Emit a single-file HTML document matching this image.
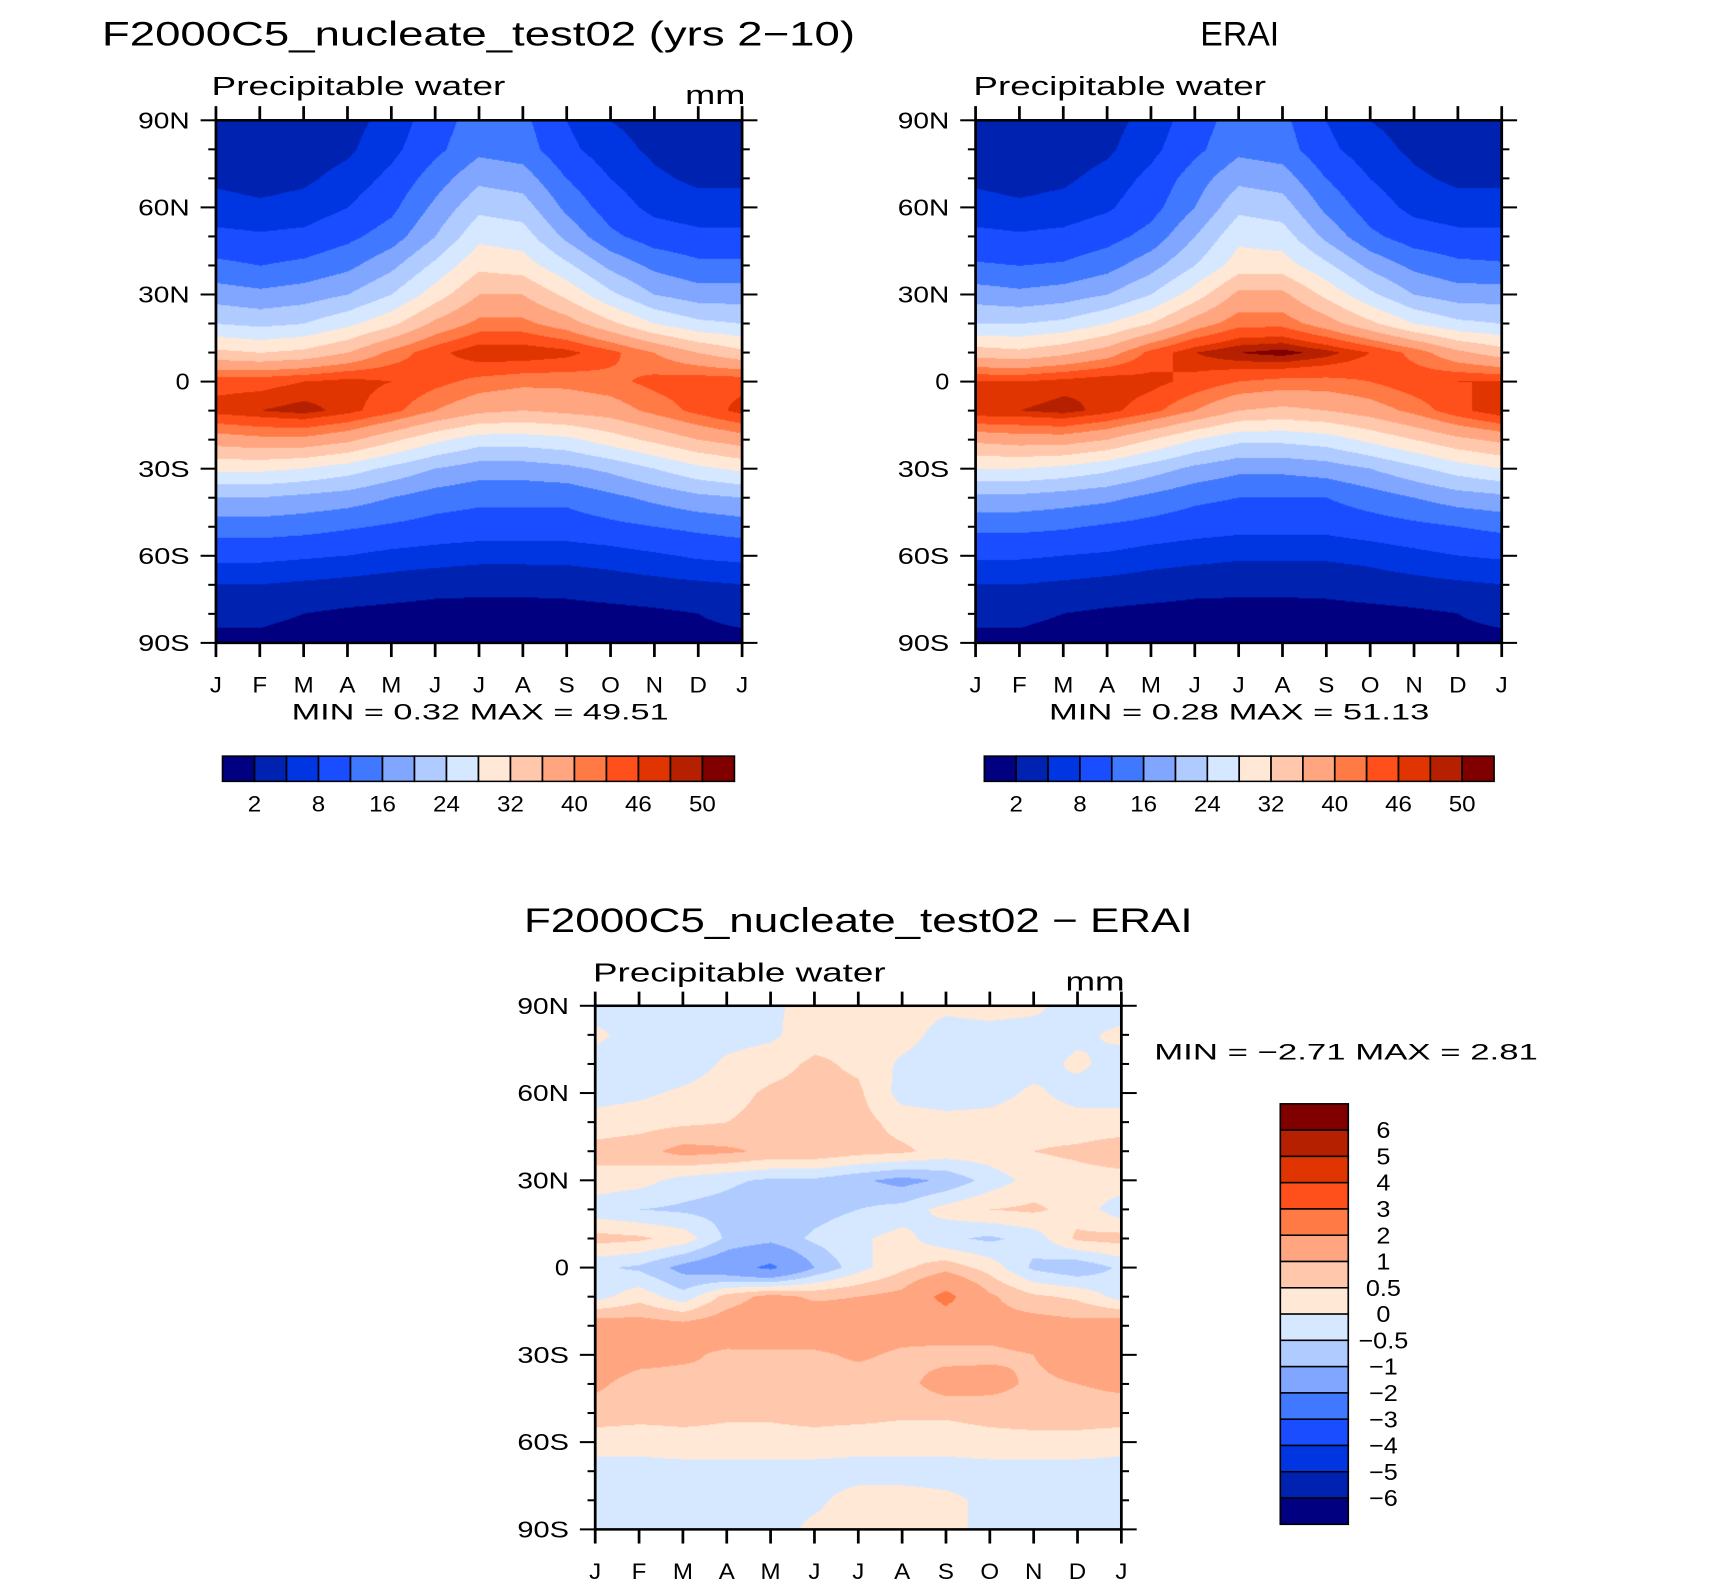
<!DOCTYPE html>
<html><head><meta charset="utf-8">
<style>
html,body{margin:0;padding:0;background:#fff;overflow:hidden}
#stage{position:absolute;left:0;top:0;width:1560px;height:1570px;transform-origin:0 0;transform:scale(1.09615,1.01083);font-family:"Liberation Sans",sans-serif}
canvas{position:absolute}
svg{position:absolute;left:0;top:0}
</style></head>
<body>
<div id="stage">
<canvas id="c1" width="480" height="517" style="left:197px;top:119px"></canvas>
<canvas id="c2" width="480" height="517" style="left:890px;top:119px"></canvas>
<canvas id="c3" width="480" height="518" style="left:543px;top:995px"></canvas>
<svg id="ov" width="1560" height="1570"></svg>
</div>
<script>
const months=["J","F","M","A","M","J","J","A","S","O","N","D","J"];
const latLabels=["90N","60N","30N","0","30S","60S","90S"];
const colors=["#000080","#0022B0","#0035E2","#1A4DFF","#4078FF","#80A6FF","#B0CBFF","#D6E8FF","#FFE8D6","#FFC8AC","#FFA580","#FF7A45","#FF4F1A","#E03500","#B52000","#800000"];
const levelsTop=[2,5,8,12,16,20,24,28,32,36,40,43,46,48,50];
const labelsTop=["2","8","16","24","32","40","46","50"];
const levelsDiff=[-6,-5,-4,-3,-2,-1,-0.5,0,0.5,1,2,3,4,5,6];
const labelsDiff=["6","5","4","3","2","1","0.5","0","\u22120.5","\u22121","\u22122","\u22123","\u22124","\u22125","\u22126"];
// rows: 90N..90S every 10 deg; columns: J..J
const modelPW=[
[3,2.5,3,4,6,10,14,13,8,5,4,3,3],
[3.5,3,3.5,4.5,7,11,15,14,9,6,4.5,3.5,3.5],
[4.5,4,4.5,6,9,14,19,18,12,8,5.5,4.5,4.5],
[6,5.5,6,8,11,17,23,22,15,10,7,6,6],
[9,8.5,9,11,14,20,27,26,19,13,10,9,9],
[13,12,13,15,19,25,31,30,25,19,15,13,13],
[18,17,18,20,24,30,36,36,31,25,20,18,18],
[24,23,24,27,31,37,41,41,38,33,28,25,24],
[33,32,33,36,41,45,48,48,47,44,40,36,33],
[45,45,46,47,46,44,42,41,41,42,44,45,45],
[47,48,49,47,44,40,37,36,37,38,41,44,47],
[38,39,39,37,33,29,26,26,27,30,33,36,38],
[29,29,28,26,23,20,18,18,19,21,24,27,29],
[20,20,19,18,16,14,13,13,13,15,17,19,20],
[14,14,13.5,12.5,11.5,10.5,10,10,10,11,12,13,14],
[9,9,8.5,8,7,6.5,6,6,6,6.5,7.5,8.5,9],
[5,5,4.5,4,3.5,3,2.8,2.8,3,3.5,4,4.5,5],
[2.5,2.5,2,1.5,1.2,1,1,1,1,1.2,1.5,2,2.5],
[1.5,1.5,1.2,1,0.8,0.6,0.5,0.5,0.5,0.7,1,1.5,1.5]];
const eraiPW=[
[3,2.5,3,4,6,10,14,13,8,5,4,3,3],
[3.5,3,3.5,4.5,7,11,15,14,9,6,4.5,3.5,3.5],
[4.5,4,4.5,6,9,14,19,18,12,8,5.5,4.5,4.5],
[6,5.5,6,7.5,10.5,16,23,22,15,10,7,6,6],
[9,8.5,9,10.5,13.5,20,27,26,19,13,10,9,9],
[12.5,12,12.5,14.5,18.5,24,30,30,25,19,15,13,12.5],
[18,17,18,20,24,30,37,37,31,25,20,18,18],
[24,24,25,28,32,38,42,42,38,33,28,25,24],
[34,33,35,38,44,48,50,51,49,46,42,37,34],
[46,46,47,48,47,45,43,42,42,43,45,46,46],
[48,48,49,47,44,40,36,35,36,38,41,45,48],
[37,38,38,36,32,28,25,25,26,29,32,35,37],
[28,28,27,25,22,19,17,17,18,20,23,26,28],
[19,19,18,17,15,13,12,12,12,14,16,18,19],
[13,13,12.5,11.5,10.5,9.5,9,9,9,10,11,12,13],
[8.5,8.5,8,7.5,6.5,6,5.5,5.5,5.5,6,7,8,8.5],
[5,5,4.5,4,3.5,3,2.8,2.8,3,3.5,4,4.5,5],
[2.5,2.5,2,1.5,1.2,1,1,1,1,1.2,1.5,2,2.5],
[1.5,1.5,1.2,1,0.8,0.6,0.5,0.5,0.5,0.7,1,1.5,1.5]];
const diffPW=[
[-0.2,-0.2,-0.3,-0.2,-0.1,0.2,0.3,0.2,0.1,0.2,0.1,-0.2,-0.2],
[0.1,-0.2,-0.3,-0.2,-0.1,0.3,0.4,0.2,-0.2,-0.2,-0.2,-0.1,0.1],
[-0.2,-0.3,-0.3,0.1,0.3,0.6,0.4,-0.1,-0.3,-0.3,-0.2,0.1,-0.2],
[-0.2,-0.1,0.1,0.3,0.6,0.7,0.6,-0.2,-0.3,-0.2,0.1,-0.2,-0.2],
[0.2,0.3,0.4,0.5,0.7,0.8,0.7,0.3,0.2,0.2,0.3,0.2,0.2],
[0.7,0.8,1.2,1.1,0.9,0.9,0.7,0.6,0.3,0.3,0.5,0.6,0.8],
[0.3,0.2,-0.2,-0.4,-0.6,-0.6,-0.9,-1.2,-0.9,-0.3,0.2,0.3,0.3],
[-0.3,-0.5,-0.6,-0.7,-0.9,-0.7,-0.5,-0.3,0.2,0.5,0.6,0.3,-0.3],
[0.7,0.6,0.3,-0.6,-0.8,-0.4,-0.1,0.2,-0.4,-0.6,-0.3,0.6,0.7],
[-0.4,-0.6,-1.2,-1.6,-2.2,-1.0,-0.2,0.4,0.8,0.3,-0.6,-0.9,-0.4],
[-0.2,0.3,-0.3,0.7,1.2,0.9,1.0,1.2,2.3,1.1,0.6,0.4,-0.2],
[1.4,1.3,1.2,1.4,1.5,1.5,1.4,1.3,1.4,1.2,1.3,1.2,1.4],
[1.3,1.2,1.1,0.9,0.9,0.9,1.1,0.9,0.8,0.9,1.0,1.3,1.3],
[1.1,0.8,0.8,1.0,0.8,0.8,0.7,0.8,1.3,1.2,0.9,1.0,1.1],
[0.8,0.7,0.7,0.6,0.6,0.7,0.7,0.6,0.6,0.7,0.8,0.8,0.8],
[0.2,0.2,0.3,0.3,0.3,0.3,0.2,0.2,0.2,0.3,0.3,0.3,0.2],
[-0.2,-0.2,-0.2,-0.2,-0.2,-0.2,-0.2,-0.2,-0.2,-0.2,-0.2,-0.2,-0.2],
[-0.2,-0.2,-0.2,-0.2,-0.1,-0.1,0.2,0.2,0.1,-0.1,-0.2,-0.2,-0.2],
[-0.2,-0.2,-0.2,-0.2,-0.2,0.1,0.2,0.2,0.1,-0.1,-0.2,-0.2,-0.2]];

function hex(c){return [parseInt(c.substr(1,2),16),parseInt(c.substr(3,2),16),parseInt(c.substr(5,2),16)];}
const rgb=colors.map(hex);
function paint(id,data,levels){
  const cv=document.getElementById(id),ctx=cv.getContext('2d');
  const W=cv.width,H=cv.height,img=ctx.createImageData(W,H);
  const nr=data.length-1,nc=data[0].length-1;
  for(let y=0;y<H;y++){
    const fy=y/(H-1)*nr,r0=Math.min(Math.floor(fy),nr-1),ty=fy-r0;
    for(let x=0;x<W;x++){
      const fx=x/(W-1)*nc,c0=Math.min(Math.floor(fx),nc-1),tx=fx-c0;
      const v=(data[r0][c0]*(1-tx)+data[r0][c0+1]*tx)*(1-ty)+(data[r0+1][c0]*(1-tx)+data[r0+1][c0+1]*tx)*ty;
      let k=0;while(k<levels.length&&v>=levels[k])k++;
      const col=rgb[k],i=(y*W+x)*4;
      img.data[i]=col[0];img.data[i+1]=col[1];img.data[i+2]=col[2];img.data[i+3]=255;
    }
  }
  ctx.putImageData(img,0,0);
}
paint('c1',modelPW,levelsTop);
paint('c2',eraiPW,levelsTop);
paint('c3',diffPW,levelsDiff);

const NS='http://www.w3.org/2000/svg',ov=document.getElementById('ov');
function el(tag,attrs,parent){const e=document.createElementNS(NS,tag);for(const k in attrs)e.setAttribute(k,attrs[k]);(parent||ov).appendChild(e);return e;}
function txt(s,x,y,size,anchor,name,len){const t=el('text',{x:x,y:y,'font-size':size,'text-anchor':anchor||'start','font-family':'Liberation Sans, sans-serif',fill:'#000'});t.textContent=s;
if(len){t.setAttribute('textLength',len);t.setAttribute('lengthAdjust','spacingAndGlyphs');}


return t;}

function axes(x0,y0,w,h,prefix){
  const g=el('g',{});
  
  
  el('rect',{x:x0,y:y0,width:w,height:h,fill:'none',stroke:'#000','stroke-width':2.5},g);
  months.forEach((m,i)=>{
    const x=x0+i*w/12;
    el('line',{x1:x,y1:y0,x2:x,y2:y0-14,stroke:'#000','stroke-width':2.5},g);
    el('line',{x1:x,y1:y0+h,x2:x,y2:y0+h+14,stroke:'#000','stroke-width':2.5},g);
    txt(m,x,y0+h+49,22,'middle',prefix+'-x-tick-label');
  });
  for(let j=0;j<=18;j++){
    const y=y0+j*h/18,major=j%3===0,L=major?14:7;
    el('line',{x1:x0,y1:y,x2:x0-L,y2:y,stroke:'#000','stroke-width':2},g);
    el('line',{x1:x0+w,y1:y,x2:x0+w+L,y2:y,stroke:'#000','stroke-width':2},g);
    if(major){const s=latLabels[j/3];txt(s,x0-24,y+8,23,'end',prefix+'-y-tick-label',s.length>1?47:null);}
  }
}
axes(197,119,480,517,'model');
axes(890,119,480,517,'erai');
axes(543,995,480,518,'diff');

function hbar(x0,y0,w,h,prefix){
  const bw=w/16;
  colors.forEach((c,i)=>{const r=el('rect',{x:x0+i*bw,y:y0,width:bw,height:h,fill:c,stroke:'#000','stroke-width':1.5});
  
  });
  labelsTop.forEach((s,i)=>txt(s,x0+(2*i+1)*bw,y0+h+30,22,'middle',prefix+'-colorbar-label'));
}
hbar(203,748,467,25,'model');
hbar(898,748,465,25,'erai');
function vbar(x0,y0,w,h){
  const bh=h/16;
  colors.slice().reverse().forEach((c,i)=>{const r=el('rect',{x:x0,y:y0+i*bh,width:w,height:bh,fill:c,stroke:'#000','stroke-width':1.5});
  
  });
  labelsDiff.forEach((s,i)=>txt(s,x0+94,y0+(i+1)*bh+8,23,'middle','diff-colorbar-label'));
}
vbar(1168,1092,62,416);

txt('F2000C5_nucleate_test02 (yrs 2\u221210)',93,45,34,'start','model-title',687);
txt('ERAI',1095,45,34,'start','erai-title',72);
txt('Precipitable water',193,94,26,'start','model-subtitle',268);
txt('mm',625,103,26,'start','model-units',55);
txt('Precipitable water',888,94,26,'start','erai-subtitle',267);
txt('MIN =    0.32  MAX =   49.51',266,712,22,'start','model-min-max',344);
txt('MIN =    0.28  MAX =   51.13',957,712,22,'start','erai-min-max',347);
txt('F2000C5_nucleate_test02 \u2212 ERAI',478,922,34,'start','diff-title',610);
txt('Precipitable water',541,971,26,'start','diff-subtitle',267);
txt('mm',972,980,26,'start','diff-units',54);
txt('MIN =   \u22122.71  MAX =    2.81',1053,1048,22,'start','diff-min-max',350);
</script>
</body></html>
